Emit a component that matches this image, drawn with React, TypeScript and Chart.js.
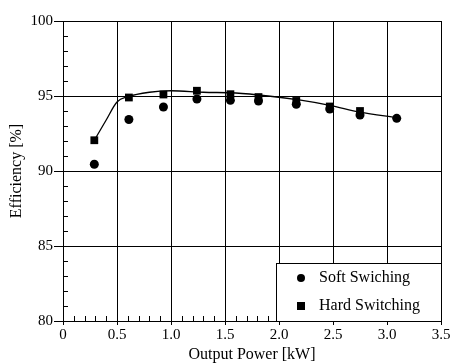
import React, { useEffect, useRef } from "react";
import { Chart, registerables } from "chart.js";

Chart.register(...registerables);

const powerKW = [0.29, 0.61, 0.93, 1.24, 1.55, 1.81, 2.16, 2.47, 2.75, 3.09];
const softEff = [90.45, 93.43, 94.27, 94.8, 94.71, 94.67, 94.45, 94.13, 93.73, 93.51];
const hardEff = [92.05, 94.9, 95.1, 95.35, 95.12, 94.93, 94.67, 94.3, 94.0, null];
const fitPowerKW = [0.29, 0.4, 0.5, 0.6, 0.8, 1.0, 1.3, 1.6, 1.9, 2.2, 2.47, 2.75, 3.09];
const fitEff = [92.05, 93.4, 94.6, 94.95, 95.25, 95.35, 95.25, 95.2, 95.0, 94.72, 94.38, 93.93, 93.55];
const seriesLabels = ["Soft Swiching", "Hard Switching"];
const xTitle = "Output Power [kW]";
const yTitle = "Efficiency [%]";

const FONT = "Liberation Serif";

const minorTicks = {
  id: "minorTicks",
  afterDatasetsDraw(chart: any) {
    const { ctx, chartArea, scales } = chart;
    ctx.save();
    ctx.strokeStyle = "#000";
    ctx.lineWidth = 1;
    for (let i = 0; i <= 35; i++) {
      const v = i / 10;
      const px = Math.round(scales.x.getPixelForValue(v)) + 0.5;
      ctx.beginPath();
      ctx.moveTo(px, chartArea.bottom);
      ctx.lineTo(px, chartArea.bottom - 5);
      ctx.stroke();
    }
    for (let v = 80; v <= 100; v++) {
      const py = Math.round(scales.y.getPixelForValue(v)) + 0.5;
      ctx.beginPath();
      ctx.moveTo(chartArea.left, py);
      ctx.lineTo(chartArea.left + 5, py);
      ctx.stroke();
    }
    ctx.restore();
  },
};

const boxLegend = {
  id: "boxLegend",
  afterDraw(chart: any) {
    const { ctx, chartArea } = chart;
    const w = 165;
    const h = 58;
    const left = chartArea.right - w;
    const top = chartArea.bottom - h;
    ctx.save();
    ctx.fillStyle = "#fff";
    ctx.fillRect(left, top, w, h);
    ctx.strokeStyle = "#000";
    ctx.lineWidth = 1;
    ctx.strokeRect(Math.round(left) + 0.5, Math.round(top) + 0.5, w, h);
    ctx.fillStyle = "#000";
    ctx.font = `16px "${FONT}"`;
    ctx.textBaseline = "middle";
    const rows = [top + 15, top + 43];
    ctx.beginPath();
    ctx.arc(left + 25, rows[0], 4, 0, Math.PI * 2);
    ctx.fill();
    ctx.fillText(seriesLabels[0], left + 43, rows[0]);
    ctx.fillRect(left + 21, rows[1] - 4, 8, 8);
    ctx.fillText(seriesLabels[1], left + 43, rows[1]);
    ctx.restore();
  },
};

export default function App() {
  const ref = useRef<HTMLCanvasElement>(null);
  useEffect(() => {
    const canvas = ref.current!;
    const chart = new Chart(canvas, {
      type: "scatter",
      data: {
        datasets: [
          {
            label: "fit",
            data: fitPowerKW.map((x, i) => ({ x, y: fitEff[i] })),
            showLine: true,
            pointRadius: 0,
            borderColor: "#000",
            borderWidth: 1.3,
            cubicInterpolationMode: "monotone",
            order: 3,
          },
          {
            label: seriesLabels[1],
            data: powerKW
              .map((x, i) => ({ x, y: hardEff[i] }))
              .filter((p) => p.y !== null) as any,
            pointStyle: "rect",
            pointRadius: 5.5,
            backgroundColor: "#000",
            borderColor: "#000",
            borderWidth: 0,
            order: 2,
          },
          {
            label: seriesLabels[0],
            data: powerKW.map((x, i) => ({ x, y: softEff[i] })),
            pointStyle: "circle",
            pointRadius: 4.5,
            backgroundColor: "#000",
            borderColor: "#000",
            borderWidth: 0,
            order: 1,
          },
        ],
      },
      options: {
        animation: false,
        responsive: false,
        maintainAspectRatio: false,
        layout: { padding: { top: 21, right: 11, left: 0, bottom: 0 } },
        plugins: {
          legend: { display: false },
          tooltip: { enabled: false },
        },
        scales: {
          x: {
            type: "linear",
            min: 0,
            max: 3.5,
            ticks: {
              stepSize: 0.5,
              color: "#000",
              font: { family: FONT, size: 15 },
              padding: 1,
              maxRotation: 0,
            },
            grid: { color: "#000", lineWidth: 1, tickLength: 4 },
            border: { color: "#000", width: 1 },
            title: {
              display: true,
              text: xTitle,
              color: "#000",
              font: { family: FONT, size: 16 },
              padding: { top: 0, bottom: 0 },
            },
            afterFit(scale: any) {
              scale.height = 43;
            },
          },
          y: {
            type: "linear",
            min: 80,
            max: 100,
            ticks: {
              stepSize: 5,
              color: "#000",
              font: { family: FONT, size: 15 },
              padding: 1,
            },
            grid: { color: "#000", lineWidth: 1, tickLength: 9 },
            border: { color: "#000", width: 1 },
            title: {
              display: true,
              text: yTitle,
              color: "#000",
              font: { family: FONT, size: 16 },
              padding: { top: 7, bottom: 0 },
            },
            afterFit(scale: any) {
              scale.width = 63;
            },
          },
        },
      },
      plugins: [minorTicks, boxLegend],
    } as any);
    return () => chart.destroy();
  }, []);
  return (
    <div style={{ position: "fixed", left: 0, top: 0, width: 452, height: 364, background: "#fff" }}>
      <canvas ref={ref} width={452} height={364} style={{ width: 452, height: 364 }} />
    </div>
  );
}
